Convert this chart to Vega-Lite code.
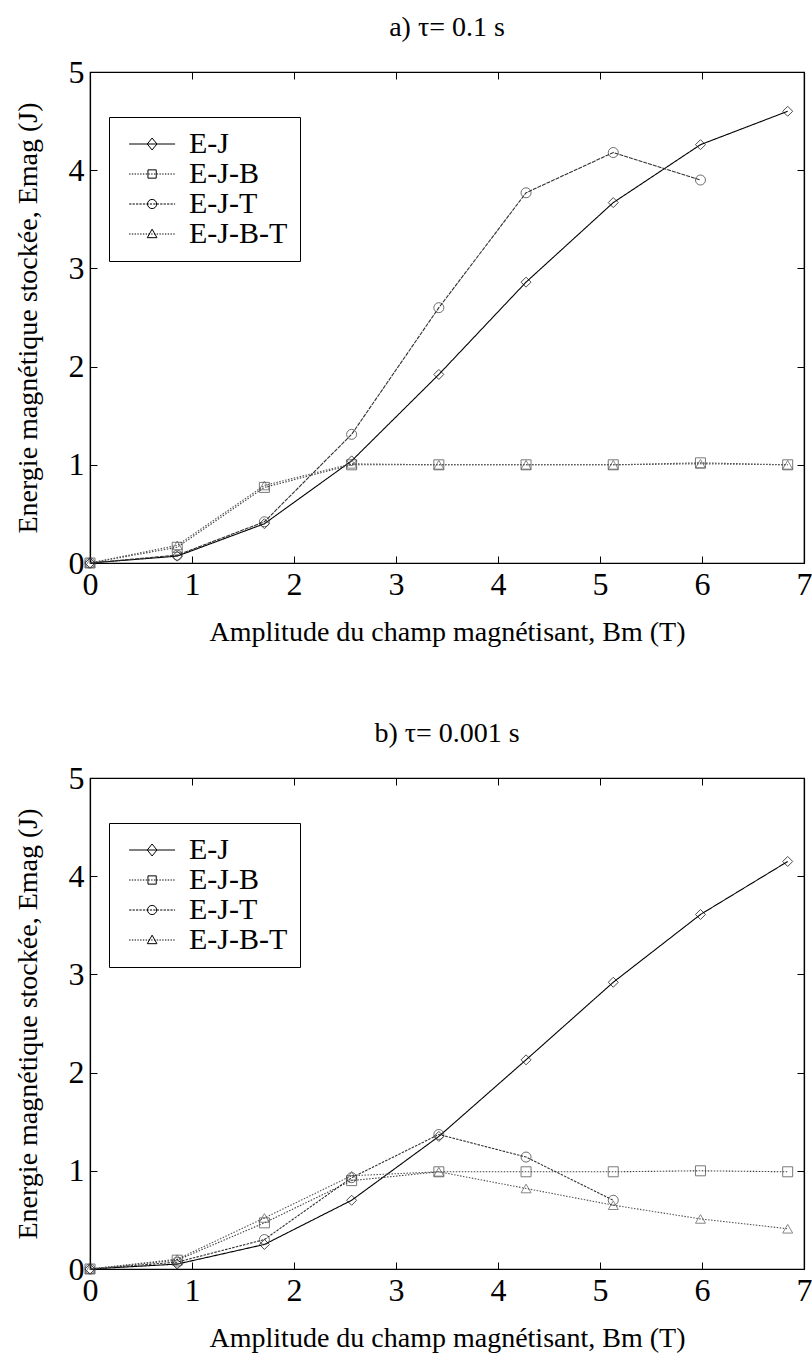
{
  "$schema": "https://vega.github.io/schema/vega-lite/v6.json",
  "background": "white",
  "padding": {"left": 13, "top": 13, "right": 9, "bottom": 5},
  "spacing": 72,
  "datasets": {
    "a": [
      {"series": "E-J", "B": 0, "E": 0}, {"series": "E-J", "B": 0.855, "E": 0.07}, {"series": "E-J", "B": 1.71, "E": 0.4}, {"series": "E-J", "B": 2.565, "E": 1.04}, {"series": "E-J", "B": 3.42, "E": 1.92}, {"series": "E-J", "B": 4.275, "E": 2.86}, {"series": "E-J", "B": 5.13, "E": 3.67}, {"series": "E-J", "B": 5.985, "E": 4.26}, {"series": "E-J", "B": 6.84, "E": 4.6},
      {"series": "E-J-B", "B": 0, "E": 0}, {"series": "E-J-B", "B": 0.855, "E": 0.16}, {"series": "E-J-B", "B": 1.71, "E": 0.77}, {"series": "E-J-B", "B": 2.565, "E": 1.0}, {"series": "E-J-B", "B": 3.42, "E": 1.0}, {"series": "E-J-B", "B": 4.275, "E": 1.0}, {"series": "E-J-B", "B": 5.13, "E": 1.0}, {"series": "E-J-B", "B": 5.985, "E": 1.02}, {"series": "E-J-B", "B": 6.84, "E": 1.0},
      {"series": "E-J-T", "B": 0, "E": 0}, {"series": "E-J-T", "B": 0.855, "E": 0.08}, {"series": "E-J-T", "B": 1.71, "E": 0.42}, {"series": "E-J-T", "B": 2.565, "E": 1.31}, {"series": "E-J-T", "B": 3.42, "E": 2.6}, {"series": "E-J-T", "B": 4.275, "E": 3.77}, {"series": "E-J-T", "B": 5.13, "E": 4.18}, {"series": "E-J-T", "B": 5.985, "E": 3.9},
      {"series": "E-J-B-T", "B": 0, "E": 0}, {"series": "E-J-B-T", "B": 0.855, "E": 0.18}, {"series": "E-J-B-T", "B": 1.71, "E": 0.79}, {"series": "E-J-B-T", "B": 2.565, "E": 1.01}, {"series": "E-J-B-T", "B": 3.42, "E": 1.0}, {"series": "E-J-B-T", "B": 4.275, "E": 1.0}, {"series": "E-J-B-T", "B": 5.13, "E": 1.0}, {"series": "E-J-B-T", "B": 5.985, "E": 1.01}, {"series": "E-J-B-T", "B": 6.84, "E": 1.0}
    ],
    "b": [
      {"series": "E-J", "B": 0, "E": 0}, {"series": "E-J", "B": 0.855, "E": 0.05}, {"series": "E-J", "B": 1.71, "E": 0.25}, {"series": "E-J", "B": 2.565, "E": 0.7}, {"series": "E-J", "B": 3.42, "E": 1.35}, {"series": "E-J", "B": 4.275, "E": 2.13}, {"series": "E-J", "B": 5.13, "E": 2.92}, {"series": "E-J", "B": 5.985, "E": 3.61}, {"series": "E-J", "B": 6.84, "E": 4.15},
      {"series": "E-J-B", "B": 0, "E": 0}, {"series": "E-J-B", "B": 0.855, "E": 0.09}, {"series": "E-J-B", "B": 1.71, "E": 0.47}, {"series": "E-J-B", "B": 2.565, "E": 0.9}, {"series": "E-J-B", "B": 3.42, "E": 0.99}, {"series": "E-J-B", "B": 4.275, "E": 0.99}, {"series": "E-J-B", "B": 5.13, "E": 0.99}, {"series": "E-J-B", "B": 5.985, "E": 1.0}, {"series": "E-J-B", "B": 6.84, "E": 0.99},
      {"series": "E-J-T", "B": 0, "E": 0}, {"series": "E-J-T", "B": 0.855, "E": 0.07}, {"series": "E-J-T", "B": 1.71, "E": 0.3}, {"series": "E-J-T", "B": 2.565, "E": 0.93}, {"series": "E-J-T", "B": 3.42, "E": 1.37}, {"series": "E-J-T", "B": 4.275, "E": 1.14}, {"series": "E-J-T", "B": 5.13, "E": 0.7},
      {"series": "E-J-B-T", "B": 0, "E": 0}, {"series": "E-J-B-T", "B": 0.855, "E": 0.1}, {"series": "E-J-B-T", "B": 1.71, "E": 0.52}, {"series": "E-J-B-T", "B": 2.565, "E": 0.95}, {"series": "E-J-B-T", "B": 3.42, "E": 0.99}, {"series": "E-J-B-T", "B": 4.275, "E": 0.82}, {"series": "E-J-B-T", "B": 5.13, "E": 0.65}, {"series": "E-J-B-T", "B": 5.985, "E": 0.51}, {"series": "E-J-B-T", "B": 6.84, "E": 0.41}
    ]
  },
  "resolve": {"scale": {"color": "independent", "shape": "independent", "strokeDash": "independent"}},
  "vconcat": [
    {
      "title": {"text": "a) τ= 0.1 s"},
      "width": 714,
      "height": 491,
      "data": {"name": "a"},
      "resolve": {"axis": {"x": "independent", "y": "independent"}, "scale": {"shape": "independent"}},
      "layer": [
        {
          "mark": {"type": "line", "strokeWidth": 1.1},
          "encoding": {
            "x": {"field": "B", "type": "quantitative", "scale": {"domain": [0, 7], "nice": false}, "axis": {"title": "Amplitude du champ magnétisant, Bm (T)", "values": [0, 1, 2, 3, 4, 5, 6, 7]}},
            "y": {"field": "E", "type": "quantitative", "scale": {"domain": [0, 5], "nice": false}, "axis": {"title": "Energie magnétique stockée, Emag (J)", "values": [0, 1, 2, 3, 4, 5]}},
            "color": {"field": "series", "type": "nominal", "scale": {"domain": ["E-J", "E-J-B", "E-J-T", "E-J-B-T"], "range": ["#000000", "#404040", "#303030", "#555555"]}, "legend": null},
            "strokeDash": {"field": "series", "type": "nominal", "scale": {"domain": ["E-J", "E-J-B", "E-J-T", "E-J-B-T"], "range": [[1, 0], [1.5, 1.5], [4, 1], [1.5, 1.5]]}, "legend": null}
          }
        },
        {
          "mark": {"type": "point", "filled": false, "size": 100, "strokeWidth": 1},
          "encoding": {
            "x": {"field": "B", "type": "quantitative", "axis": null},
            "y": {"field": "E", "type": "quantitative", "axis": null},
            "color": {"field": "series", "type": "nominal", "legend": null},
            "shape": {"field": "series", "type": "nominal", "scale": {"domain": ["E-J", "E-J-B", "E-J-T", "E-J-B-T"], "range": ["diamond", "square", "circle", "triangle-up"]}, "legend": null}
          }
        },
        {
          "mark": {"type": "point", "opacity": 0, "filled": false},
          "encoding": {
            "x": {"field": "B", "type": "quantitative", "axis": {"orient": "top", "labels": false, "title": null, "values": [0, 1, 2, 3, 4, 5, 6, 7]}},
            "y": {"field": "E", "type": "quantitative", "axis": {"orient": "right", "labels": false, "title": null, "values": [0, 1, 2, 3, 4, 5]}},
            "shape": {"field": "series", "type": "nominal", "scale": {"domain": ["E-J", "E-J-B", "E-J-T", "E-J-B-T"], "range": [
              "M-0.6,0H3.4M1.4,-0.52L1.82,0L1.4,0.52L0.98,0Z",
              "M-0.6,0H-0.48M-0.36,0H-0.24M-0.12,0H0M0.12,0H0.24M0.36,0H0.48M0.6,0H0.72M0.84,0H0.96M1.08,0H1.2M1.32,0H1.44M1.56,0H1.68M1.8,0H1.92M2.04,0H2.16M2.28,0H2.4M2.52,0H2.64M2.76,0H2.88M3,0H3.12M3.24,0H3.36M1.04,-0.36H1.76V0.36H1.04Z",
              "M-0.6,0H-0.4M-0.3,0H-0.1M0,0H0.2M0.3,0H0.5M0.6,0H0.8M0.9,0H1.1M1.2,0H1.4M1.5,0H1.7M1.8,0H2M2.1,0H2.3M2.4,0H2.6M2.7,0H2.9M3,0H3.2M3.3,0H3.4M1.8,0A0.4,0.4 0 1,1 1,0A0.4,0.4 0 1,1 1.8,0Z",
              "M-0.6,0H-0.48M-0.36,0H-0.24M-0.12,0H0M0.12,0H0.24M0.36,0H0.48M0.6,0H0.72M0.84,0H0.96M1.08,0H1.2M1.32,0H1.44M1.56,0H1.68M1.8,0H1.92M2.04,0H2.16M2.28,0H2.4M2.52,0H2.64M2.76,0H2.88M3,0H3.12M3.24,0H3.36M1.4,-0.42L1.82,0.32H0.98Z"
            ]}, "legend": {"title": null, "orient": "none", "legendX": 19, "legendY": 45, "symbolOpacity": 1, "symbolStrokeColor": "black", "symbolFillColor": "transparent", "symbolSize": 529, "symbolStrokeWidth": 1}}
          }
        }
      ]
    },
    {
      "title": {"text": "b) τ= 0.001 s"},
      "width": 714,
      "height": 491,
      "data": {"name": "b"},
      "resolve": {"axis": {"x": "independent", "y": "independent"}, "scale": {"shape": "independent"}},
      "layer": [
        {
          "mark": {"type": "line", "strokeWidth": 1.1},
          "encoding": {
            "x": {"field": "B", "type": "quantitative", "scale": {"domain": [0, 7], "nice": false}, "axis": {"title": "Amplitude du champ magnétisant, Bm (T)", "values": [0, 1, 2, 3, 4, 5, 6, 7]}},
            "y": {"field": "E", "type": "quantitative", "scale": {"domain": [0, 5], "nice": false}, "axis": {"title": "Energie magnétique stockée, Emag (J)", "values": [0, 1, 2, 3, 4, 5]}},
            "color": {"field": "series", "type": "nominal", "scale": {"domain": ["E-J", "E-J-B", "E-J-T", "E-J-B-T"], "range": ["#000000", "#404040", "#303030", "#555555"]}, "legend": null},
            "strokeDash": {"field": "series", "type": "nominal", "scale": {"domain": ["E-J", "E-J-B", "E-J-T", "E-J-B-T"], "range": [[1, 0], [1.5, 1.5], [2.5, 1.2], [1.5, 1.5]]}, "legend": null}
          }
        },
        {
          "mark": {"type": "point", "filled": false, "size": 100, "strokeWidth": 1},
          "encoding": {
            "x": {"field": "B", "type": "quantitative", "axis": null},
            "y": {"field": "E", "type": "quantitative", "axis": null},
            "color": {"field": "series", "type": "nominal", "legend": null},
            "shape": {"field": "series", "type": "nominal", "scale": {"domain": ["E-J", "E-J-B", "E-J-T", "E-J-B-T"], "range": ["diamond", "square", "circle", "triangle-up"]}, "legend": null}
          }
        },
        {
          "mark": {"type": "point", "opacity": 0, "filled": false},
          "encoding": {
            "x": {"field": "B", "type": "quantitative", "axis": {"orient": "top", "labels": false, "title": null, "values": [0, 1, 2, 3, 4, 5, 6, 7]}},
            "y": {"field": "E", "type": "quantitative", "axis": {"orient": "right", "labels": false, "title": null, "values": [0, 1, 2, 3, 4, 5]}},
            "shape": {"field": "series", "type": "nominal", "scale": {"domain": ["E-J", "E-J-B", "E-J-T", "E-J-B-T"], "range": [
              "M-0.6,0H3.4M1.4,-0.52L1.82,0L1.4,0.52L0.98,0Z",
              "M-0.6,0H-0.48M-0.36,0H-0.24M-0.12,0H0M0.12,0H0.24M0.36,0H0.48M0.6,0H0.72M0.84,0H0.96M1.08,0H1.2M1.32,0H1.44M1.56,0H1.68M1.8,0H1.92M2.04,0H2.16M2.28,0H2.4M2.52,0H2.64M2.76,0H2.88M3,0H3.12M3.24,0H3.36M1.04,-0.36H1.76V0.36H1.04Z",
              "M-0.6,0H-0.4M-0.3,0H-0.1M0,0H0.2M0.3,0H0.5M0.6,0H0.8M0.9,0H1.1M1.2,0H1.4M1.5,0H1.7M1.8,0H2M2.1,0H2.3M2.4,0H2.6M2.7,0H2.9M3,0H3.2M3.3,0H3.4M1.8,0A0.4,0.4 0 1,1 1,0A0.4,0.4 0 1,1 1.8,0Z",
              "M-0.6,0H-0.48M-0.36,0H-0.24M-0.12,0H0M0.12,0H0.24M0.36,0H0.48M0.6,0H0.72M0.84,0H0.96M1.08,0H1.2M1.32,0H1.44M1.56,0H1.68M1.8,0H1.92M2.04,0H2.16M2.28,0H2.4M2.52,0H2.64M2.76,0H2.88M3,0H3.12M3.24,0H3.36M1.4,-0.42L1.82,0.32H0.98Z"
            ]}, "legend": {"title": null, "orient": "none", "legendX": 19, "legendY": 45, "symbolOpacity": 1, "symbolStrokeColor": "black", "symbolFillColor": "transparent", "symbolSize": 529, "symbolStrokeWidth": 1}}
          }
        }
      ]
    }
  ],
  "config": {
    "font": "Liberation Serif",
    "view": {"stroke": "black", "strokeWidth": 1.2},
    "title": {"font": "Liberation Serif", "fontSize": 28, "fontWeight": "normal", "color": "black", "offset": 14, "anchor": "middle"},
    "axis": {
      "grid": false,
      "domainColor": "black",
      "domainWidth": 1.2,
      "tickColor": "black",
      "tickSize": -7,
      "tickWidth": 1,
      "labelColor": "black",
      "titleColor": "black",
      "labelFont": "Liberation Serif",
      "titleFont": "Liberation Serif",
      "labelFontSize": 32,
      "titleFontSize": 28,
      "titleFontWeight": "normal",
      "labelPadding": 13,
      "labelFlush": false,
      "labelOverlap": false
    },
    "axisY": {"titlePadding": 26},
    "axisX": {"titlePadding": 18},
    "legend": {
      "strokeColor": "black",
      "fillColor": "white",
      "padding": 12,
      "labelFont": "Liberation Serif",
      "labelFontSize": 30,
      "labelColor": "black",
      "rowPadding": -1,
      "labelOffset": 38
    }
  }
}
